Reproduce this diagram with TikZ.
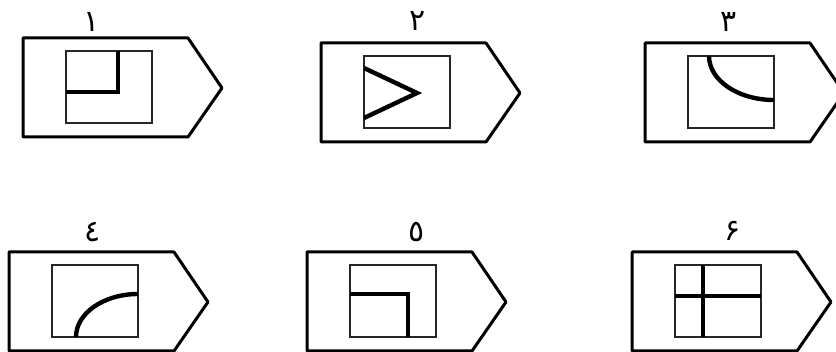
\documentclass[tikz,border=0pt]{standalone}
\usepackage{fontspec}
\newfontfamily\arabicfont[Script=Arabic]{DejaVu Sans}
\begin{document}
\begin{tikzpicture}[x=1pt,y=-1pt,
    tag/.style={draw=black, line width=3pt, line join=round},
    frame/.style={draw=black!85, line width=1.9pt},
    stroke/.style={draw=black, line width=4.4pt},
    num/.style={font=\arabicfont\fontsize{30}{32}\selectfont, inner sep=0pt}]
  \useasboundingbox (0,0) rectangle (836,352);
  %, tags with their inner frames ---
  \foreach \px/\py in {23/38,321/43,645/43,9/252,307/252,632/252}{
    \draw[tag] (\px,\py) -- ++(165,0) -- ++(34,50) -- ++(-34,49) -- ++(-165,0) -- cycle;
    \draw[frame] (\px+43,\py+13) rectangle ++(86,72);
  }
  %, numbers ---
  \node[num] (l1) at (92,22) {١};
  \node[num] (l2) at (418,21) {٢};
  \node[num] (l3) at (729,22) {٣};
  \node[num] (l4) at (93,232) {٤};
  \node[num] (l5) at (417,232) {٥};
  \node[num] (l6) at (733,231) {۶};
  %, figures inside the frames ---
  \begin{scope}[shift={(23,38)}]
    \draw[stroke] (95,13) -- (95,54) -- (43,54);
  \end{scope}
  \begin{scope}[shift={(321,43)}]
    \draw[stroke] (43,25) -- (96,50) -- (43,75);
  \end{scope}
  \begin{scope}[shift={(645,43)}]
    \draw[stroke] (64,13) arc[start angle=180, end angle=90, x radius=65, y radius=44];
  \end{scope}
  \begin{scope}[shift={(9,252)}]
    \draw[stroke] (67,85) arc[start angle=180, end angle=270, x radius=62, y radius=43];
  \end{scope}
  \begin{scope}[shift={(307,252)}]
    \draw[stroke] (43,42) -- (101,42) -- (101,85);
  \end{scope}
  \begin{scope}[shift={(632,252)}]
    \draw[stroke] (71,13) -- (71,85);
    \draw[stroke] (43,44) -- (129,44);
  \end{scope}
\end{tikzpicture}
\end{document}
